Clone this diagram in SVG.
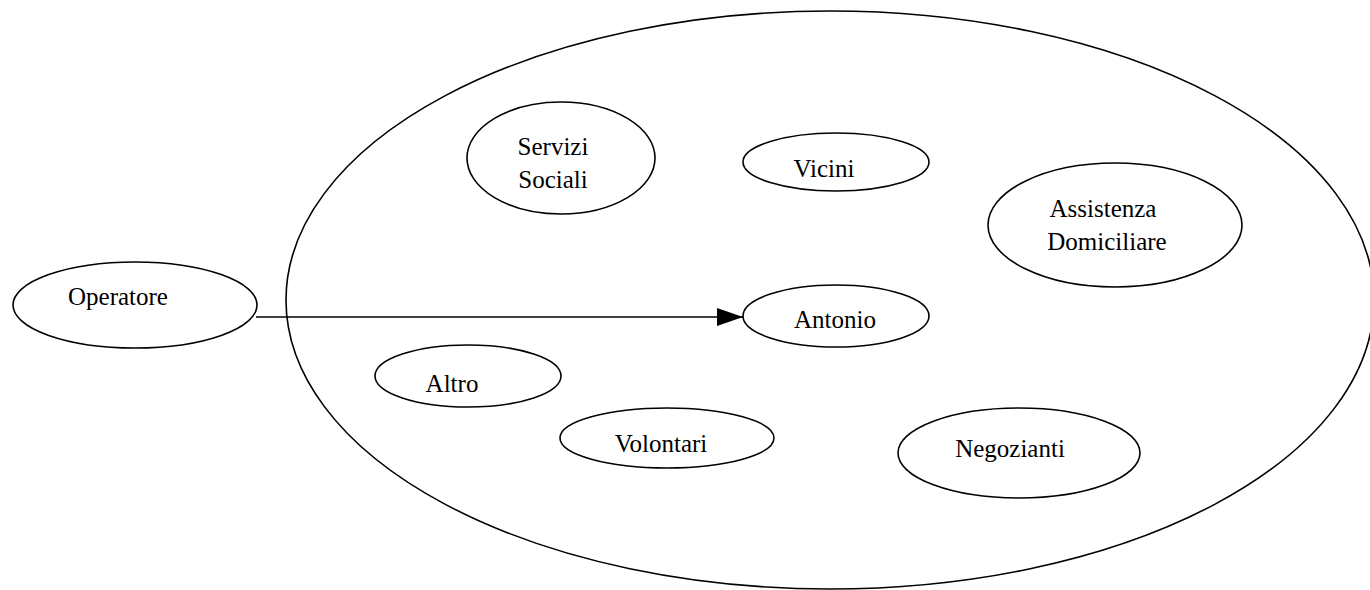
<svg xmlns="http://www.w3.org/2000/svg" width="1370" height="590" viewBox="0 0 1370 590">
<style>
.n{fill:#fff;stroke:#000;stroke-width:1.6}
.big{fill:none;stroke:#000;stroke-width:1.6}
.t{font-family:"Liberation Serif","Times New Roman",serif;font-size:25px;fill:#000;text-anchor:middle}
.c{stroke:#000;stroke-width:1.6;fill:none}
</style>
<defs>
<marker id="ah" markerUnits="userSpaceOnUse" markerWidth="28" markerHeight="20" refX="26" refY="9" orient="auto">
<path d="M0,0 L26,9 L0,18 Z" fill="#000"/>
</marker>
</defs>
<rect width="1370" height="590" fill="#fff"/>
<g id="ambiente"><ellipse class="big" cx="830" cy="300" rx="544" ry="289"/></g>
<g id="operatore"><ellipse class="n" cx="135" cy="305" rx="122" ry="43"/><text class="t" x="118" y="305">Operatore</text></g>
<g id="servizi"><ellipse class="n" cx="561" cy="158" rx="94" ry="56"/><text class="t" x="553" y="155">Servizi</text><text class="t" x="553" y="188">Sociali</text></g>
<g id="vicini"><ellipse class="n" cx="836" cy="162" rx="93" ry="29"/><text class="t" x="824" y="177">Vicini</text></g>
<g id="assistenza"><ellipse class="n" cx="1115" cy="225" rx="127" ry="62"/><text class="t" x="1103" y="217">Assistenza</text><text class="t" x="1107" y="250">Domiciliare</text></g>
<g id="antonio"><ellipse class="n" cx="836" cy="316" rx="93" ry="31"/><text class="t" x="835" y="328">Antonio</text></g>
<g id="altro"><ellipse class="n" cx="468" cy="376" rx="93" ry="31"/><text class="t" x="452" y="392">Altro</text></g>
<g id="volontari"><ellipse class="n" cx="667" cy="438" rx="107" ry="30"/><text class="t" x="661" y="452">Volontari</text></g>
<g id="negozianti"><ellipse class="n" cx="1019" cy="453" rx="121" ry="45"/><text class="t" x="1010" y="457">Negozianti</text></g>
<g id="connectors"><line class="c" x1="256" y1="317" x2="743" y2="317" marker-end="url(#ah)"/></g>
</svg>
